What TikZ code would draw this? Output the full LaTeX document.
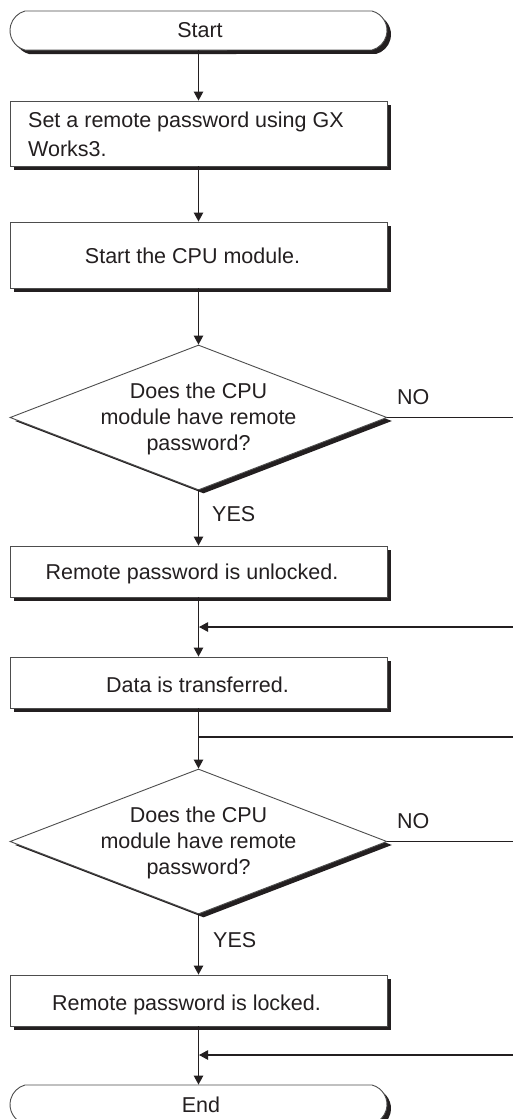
\documentclass[tikz,border=0pt]{standalone}
\usepackage{fontspec}
\setmainfont{Liberation Sans}
\usetikzlibrary{arrows.meta,shapes.geometric,shapes.misc,shadows}
\definecolor{ink}{HTML}{231F20}
\definecolor{edgec}{HTML}{4D4D4D}
\begin{document}
\begin{tikzpicture}[x=1pt,y=-1pt,
  shadowed/.style={drop shadow={shadow xshift=4pt,shadow yshift=-4pt,fill=ink,opacity=1}},
  stepbox/.style={rectangle,draw=edgec,line width=0.9pt,fill=white,minimum width=377pt,inner sep=0pt,shadowed},
  term/.style={rounded rectangle,rounded rectangle arc length=150,draw=edgec,line width=0.9pt,fill=white,minimum width=377pt,minimum height=39pt,inner sep=0pt,shadowed},
  decide/.style={diamond,draw=edgec,line width=0.9pt,fill=white,minimum width=377pt,minimum height=145pt,inner sep=0pt,drop shadow={shadow xshift=5pt,shadow yshift=-3.5pt,fill=ink,opacity=1}},
  txt/.style={text=ink,font=\fontsize{21.5}{26}\selectfont,inner sep=0pt},
  flow/.style={draw=ink,line width=1.1pt},
  arr/.style={flow,-{Triangle[width=9.5pt,length=9pt]}},
]
\useasboundingbox (0,0) rectangle (513,1119);
\clip (0,0) rectangle (513,1119);

% shapes
\node[term] (start) at (198.5,30.5) {};
\node[stepbox,minimum height=65pt] (b1) at (198.5,133.5) {};
\node[stepbox,minimum height=66pt] (b2) at (198.5,255) {};
\node[decide] (d1) at (198.5,417.5) {};
\node[stepbox,minimum height=51pt] (b3) at (198.5,571.5) {};
\node[stepbox,minimum height=51pt] (b4) at (198.5,682.5) {};
\node[decide] (d2) at (198.5,841.5) {};
\node[stepbox,minimum height=51pt] (b5) at (198.5,1000.5) {};
\node[term] (end) at (198.5,1104.5) {};

% texts
\node[txt,anchor=base] (tstart) at (200,37) {Start};
\node[txt,anchor=west,align=left,font=\fontsize{21.5}{29}\selectfont] (t1) at (28,134) {Set a remote password using GX\\Works3.};
\node[txt,anchor=base] (t2) at (192.5,263) {Start the CPU module.};
\node[txt,align=center] (td1) at (198.5,418.5) {Does the CPU\\module have remote\\password?};
\node[txt,anchor=base] (t3) at (192,579) {Remote password is unlocked.};
\node[txt,anchor=base] (t4) at (197.5,692) {Data is transferred.};
\node[txt,align=center] (td2) at (198.5,842.5) {Does the CPU\\module have remote\\password?};
\node[txt,anchor=base] (t5) at (186.5,1010) {Remote password is locked.};
\node[txt,anchor=base] (tend) at (201,1112) {End};

% branch labels
\node[txt,anchor=base west] (no1) at (397,404) {NO};
\node[txt,anchor=base west] (yes1) at (212,521) {YES};
\node[txt,anchor=base west] (no2) at (397,828) {NO};
\node[txt,anchor=base west] (yes2) at (213,947) {YES};

% junctions and free ends
\coordinate (r1) at (513,417.5);
\coordinate (r2) at (513,627);
\coordinate (j1) at (199,627);
\coordinate (r3) at (513,737);
\coordinate (j2) at (199,737);
\coordinate (r4) at (513,841.5);
\coordinate (r5) at (513,1055);
\coordinate (j3) at (199,1055);

% connectors
\draw[arr] (start.south) -- (b1.north);
\draw[arr] (b1.south) -- (b2.north);
\draw[arr] (b2.south) -- (d1.north);
\draw[arr] (d1.south) -- (b3.north);
\draw[flow] (d1.east) -- (r1);
\draw[arr] (b3.south) -- (b4.north);
\draw[arr] (r2) -- (j1);
\draw[arr] (b4.south) -- (d2.north);
\draw[flow] (j2) -- (r3);
\draw[flow] (d2.east) -- (r4);
\draw[arr] (d2.south) -- (b5.north);
\draw[arr] (b5.south) -- (end.north);
\draw[arr] (r5) -- (j3);
\end{tikzpicture}
\end{document}
